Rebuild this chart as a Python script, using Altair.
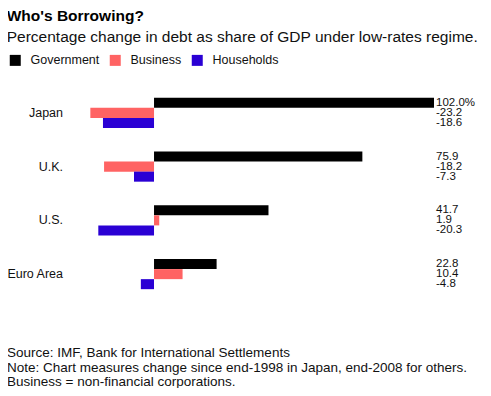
import altair as alt
import pandas as pd

countries = ["Japan", "U.K.", "U.S.", "Euro Area"]
series = ["Government", "Business", "Households"]
government = [102.0, 75.9, 41.7, 22.8]
business = [-23.2, -18.2, 1.9, 10.4]
households = [-18.6, -7.3, -20.3, -4.8]
colors = ["#000000", "#ff6363", "#2a00d4"]
title_text = "Who's Borrowing?"
subtitle_text = "Percentage change in debt as share of GDP under low-rates regime."
footer_lines = [
    "Source: IMF, Bank for International Settlements",
    "Note: Chart measures change since end-1998 in Japan, end-2008 for others.",
    "Business = non-financial corporations.",
]

FONT = "Liberation Sans"

rows = []
for i, c in enumerate(countries):
    for s, vals in zip(series, [government, business, households]):
        v = vals[i]
        lab = f"{v:.1f}" + ("%" if (i == 0 and s == "Government") else "")
        rows.append(dict(country=c, series=s, value=v, label=lab))
df = pd.DataFrame(rows)
footer_df = pd.DataFrame({"text": ["\n".join(footer_lines)]})

y_enc = alt.Y("country:N", sort=countries, axis=None,
              scale=alt.Scale(paddingInner=0.44, paddingOuter=0.22))
yoff_enc = alt.YOffset("series:N", sort=series,
                       scale=alt.Scale(domain=series, paddingInner=0, paddingOuter=0))

base = alt.Chart(df)

bars = base.mark_bar().encode(
    x=alt.X("value:Q", axis=None, scale=alt.Scale(domain=[-53.2, 102], nice=False, zero=True)),
    y=y_enc,
    yOffset=yoff_enc,
    color=alt.Color("series:N", sort=series,
                    scale=alt.Scale(domain=series, range=colors),
                    legend=alt.Legend(title=None, orient="none", legendX=1, legendY=-32,
                                      direction="horizontal", symbolType="square",
                                      symbolSize=121, symbolStrokeWidth=0, symbolOpacity=1,
                                      labelFont=FONT, labelFontSize=12.5, labelColor="#111",
                                      labelOffset=9, columnPadding=9)),
)

values = base.mark_text(align="left", baseline="middle", font=FONT, fontSize=11.5,
                        color="#111", clip=False).encode(
    x=alt.value(428),
    y=y_enc,
    yOffset=yoff_enc,
    text="label:N",
)

country_df = pd.DataFrame({"country": countries})
country_labels = alt.Chart(country_df).mark_text(
    align="right", baseline="middle", font=FONT, fontSize=12.5, color="#111").encode(
    x=alt.value(55),
    y=y_enc,
    text="country:N",
)

footer = alt.Chart(footer_df).mark_text(
    align="left", baseline="top", font=FONT, fontSize=13.5, color="#111",
    lineBreak="\n", lineHeight=14.5).encode(
    x=alt.value(-1),
    y=alt.value(260),
    text="text:N",
)

chart = alt.layer(bars, values, country_labels, footer).properties(
    width=426,
    height=215,
    autosize=alt.AutoSizeParams(type="none"),
    padding={"left": 0, "top": 78, "right": 49, "bottom": 87},
    title=alt.TitleParams(
        text=title_text, subtitle=subtitle_text, anchor="start", offset=9,
        font=FONT, fontSize=15.5, fontWeight="bold", color="#000",
        subtitleFont=FONT, subtitleFontSize=15.5, subtitleColor="#111",
        subtitlePadding=5, dx=0,
    ),
).configure_view(stroke=None)

chart.save("out.html", embed_options={"renderer": "svg", "actions": False})
